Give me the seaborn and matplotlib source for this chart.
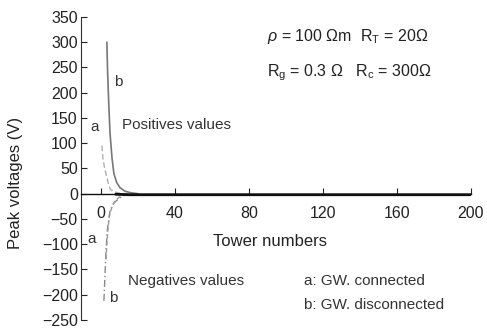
import numpy as np
import pandas as pd
import matplotlib
matplotlib.use("Agg")
import matplotlib.pyplot as plt
import seaborn as sns

# ---- data ----
b_pos_tower = [3.2, 3.6, 4.2, 4.9, 6.0, 7.0, 8.5, 10.3, 13.0, 16.0, 20.0]
b_pos_volt = [300, 240, 180, 120, 70, 40, 22, 12, 5, 2, 0]

a_pos_tower = [0.5, 1.0, 2.0, 3.0, 4.0, 5.0, 7.0, 10.0, 14.0]
a_pos_volt = [95, 72, 50, 35, 20, 9, 4, 1, 0]

b_neg_tower = [1.6, 2.2, 2.7, 3.5, 4.9, 7.0, 10.3, 14.6]
b_neg_volt = [-212, -160, -115, -70, -34, -18, -8, 0]

a_neg_tower = [2.7, 3.2, 3.8, 4.5, 6.0, 8.0, 11.0, 15.0]
a_neg_volt = [-130, -100, -70, -45, -25, -12, -4, 0]

tail_tower = [8, 15, 40, 80, 120, 160, 200]
tail_volt = [-1, -2, -2, -2, -2, -2, -2]

x_ticks = [0, 40, 80, 120, 160, 200]
y_ticks = [-250, -200, -150, -100, -50, 0, 50, 100, 150, 200, 250, 300, 350]

sns.set_theme(style="white")
plt.rcParams["font.family"] = ["Liberation Sans", "DejaVu Sans"]
plt.rcParams["mathtext.fontset"] = "custom"
plt.rcParams["mathtext.rm"] = "Liberation Sans"
plt.rcParams["mathtext.it"] = "Liberation Sans:italic"

fig = plt.figure(figsize=(4.87, 3.29), dpi=100)
ax = fig.add_axes([0.1655, 0.0274, 0.8016, 0.921])

sns.lineplot(x=b_pos_tower, y=b_pos_volt, ax=ax, color="#777777", lw=1.2, sort=False)
sns.lineplot(x=a_pos_tower, y=a_pos_volt, ax=ax, color="#b0b0b0", lw=1.0,
             linestyle=(0, (4, 2)), sort=False)
sns.lineplot(x=b_neg_tower, y=b_neg_volt, ax=ax, color="#888888", lw=1.0,
             linestyle=(0, (5, 2, 1, 2)), sort=False)
sns.lineplot(x=a_neg_tower, y=a_neg_volt, ax=ax, color="#999999", lw=1.0,
             linestyle=(0, (3, 2)), sort=False)
sns.lineplot(x=tail_tower, y=tail_volt, ax=ax, color="#111111", lw=2.0, sort=False)

ax.set_xlim(-11, 200)
ax.set_ylim(-250, 350)
ax.set_xticks(x_ticks)
ax.set_yticks(y_ticks)

for s in ["top", "right"]:
    ax.spines[s].set_visible(False)
ax.spines["bottom"].set_position(("data", 0))
ax.spines["bottom"].set_color("#111111")
ax.spines["bottom"].set_linewidth(1.0)
ax.spines["left"].set_color("#333333")
ax.spines["left"].set_linewidth(0.8)

ax.tick_params(axis="y", direction="in", length=4, width=0.8, colors="#222222",
               labelsize=11.5, pad=2, left=True)
ax.tick_params(axis="x", direction="in", length=4, width=0.8, colors="#222222",
               labelsize=11.5, pad=9, bottom=True)

ax.set_xlabel("")
ax.set_ylabel("")
fig.text(16 / 487, 1 - 183 / 329, "Peak voltages (V)", rotation=90, ha="center",
         va="center", fontsize=12, color="#222222")
fig.text(270 / 487, 1 - 241 / 329, "Tower numbers", ha="center", va="center",
         fontsize=12, color="#222222")

txt = dict(fontsize=11, color="#333333", va="center")
ax.text(9.2, 222, "b", ha="center", **txt)
ax.text(-3.2, 132, "a", ha="center", **txt)
ax.text(11.4, 136, "Positives values", ha="left", **txt)
ax.text(-4.9, -90, "a", ha="center", **txt)
ax.text(6.5, -206, "b", ha="center", **txt)
ax.text(14.6, -173, "Negatives values", ha="left", **txt)
ax.text(89.7, 311, r"$\rho$ = 100 Ωm  R$_\mathrm{T}$ = 20Ω", ha="left",
        fontsize=11.5, color="#222222", va="center")
ax.text(89.7, 240, r"R$_\mathrm{g}$ = 0.3 Ω   R$_\mathrm{c}$ = 300Ω", ha="left",
        fontsize=11.5, color="#222222", va="center")
ax.text(110, -173, "a: GW. connected", ha="left", **txt)
ax.text(110, -220, "b: GW. disconnected", ha="left", **txt)

fig.savefig("out.png", dpi=100)
